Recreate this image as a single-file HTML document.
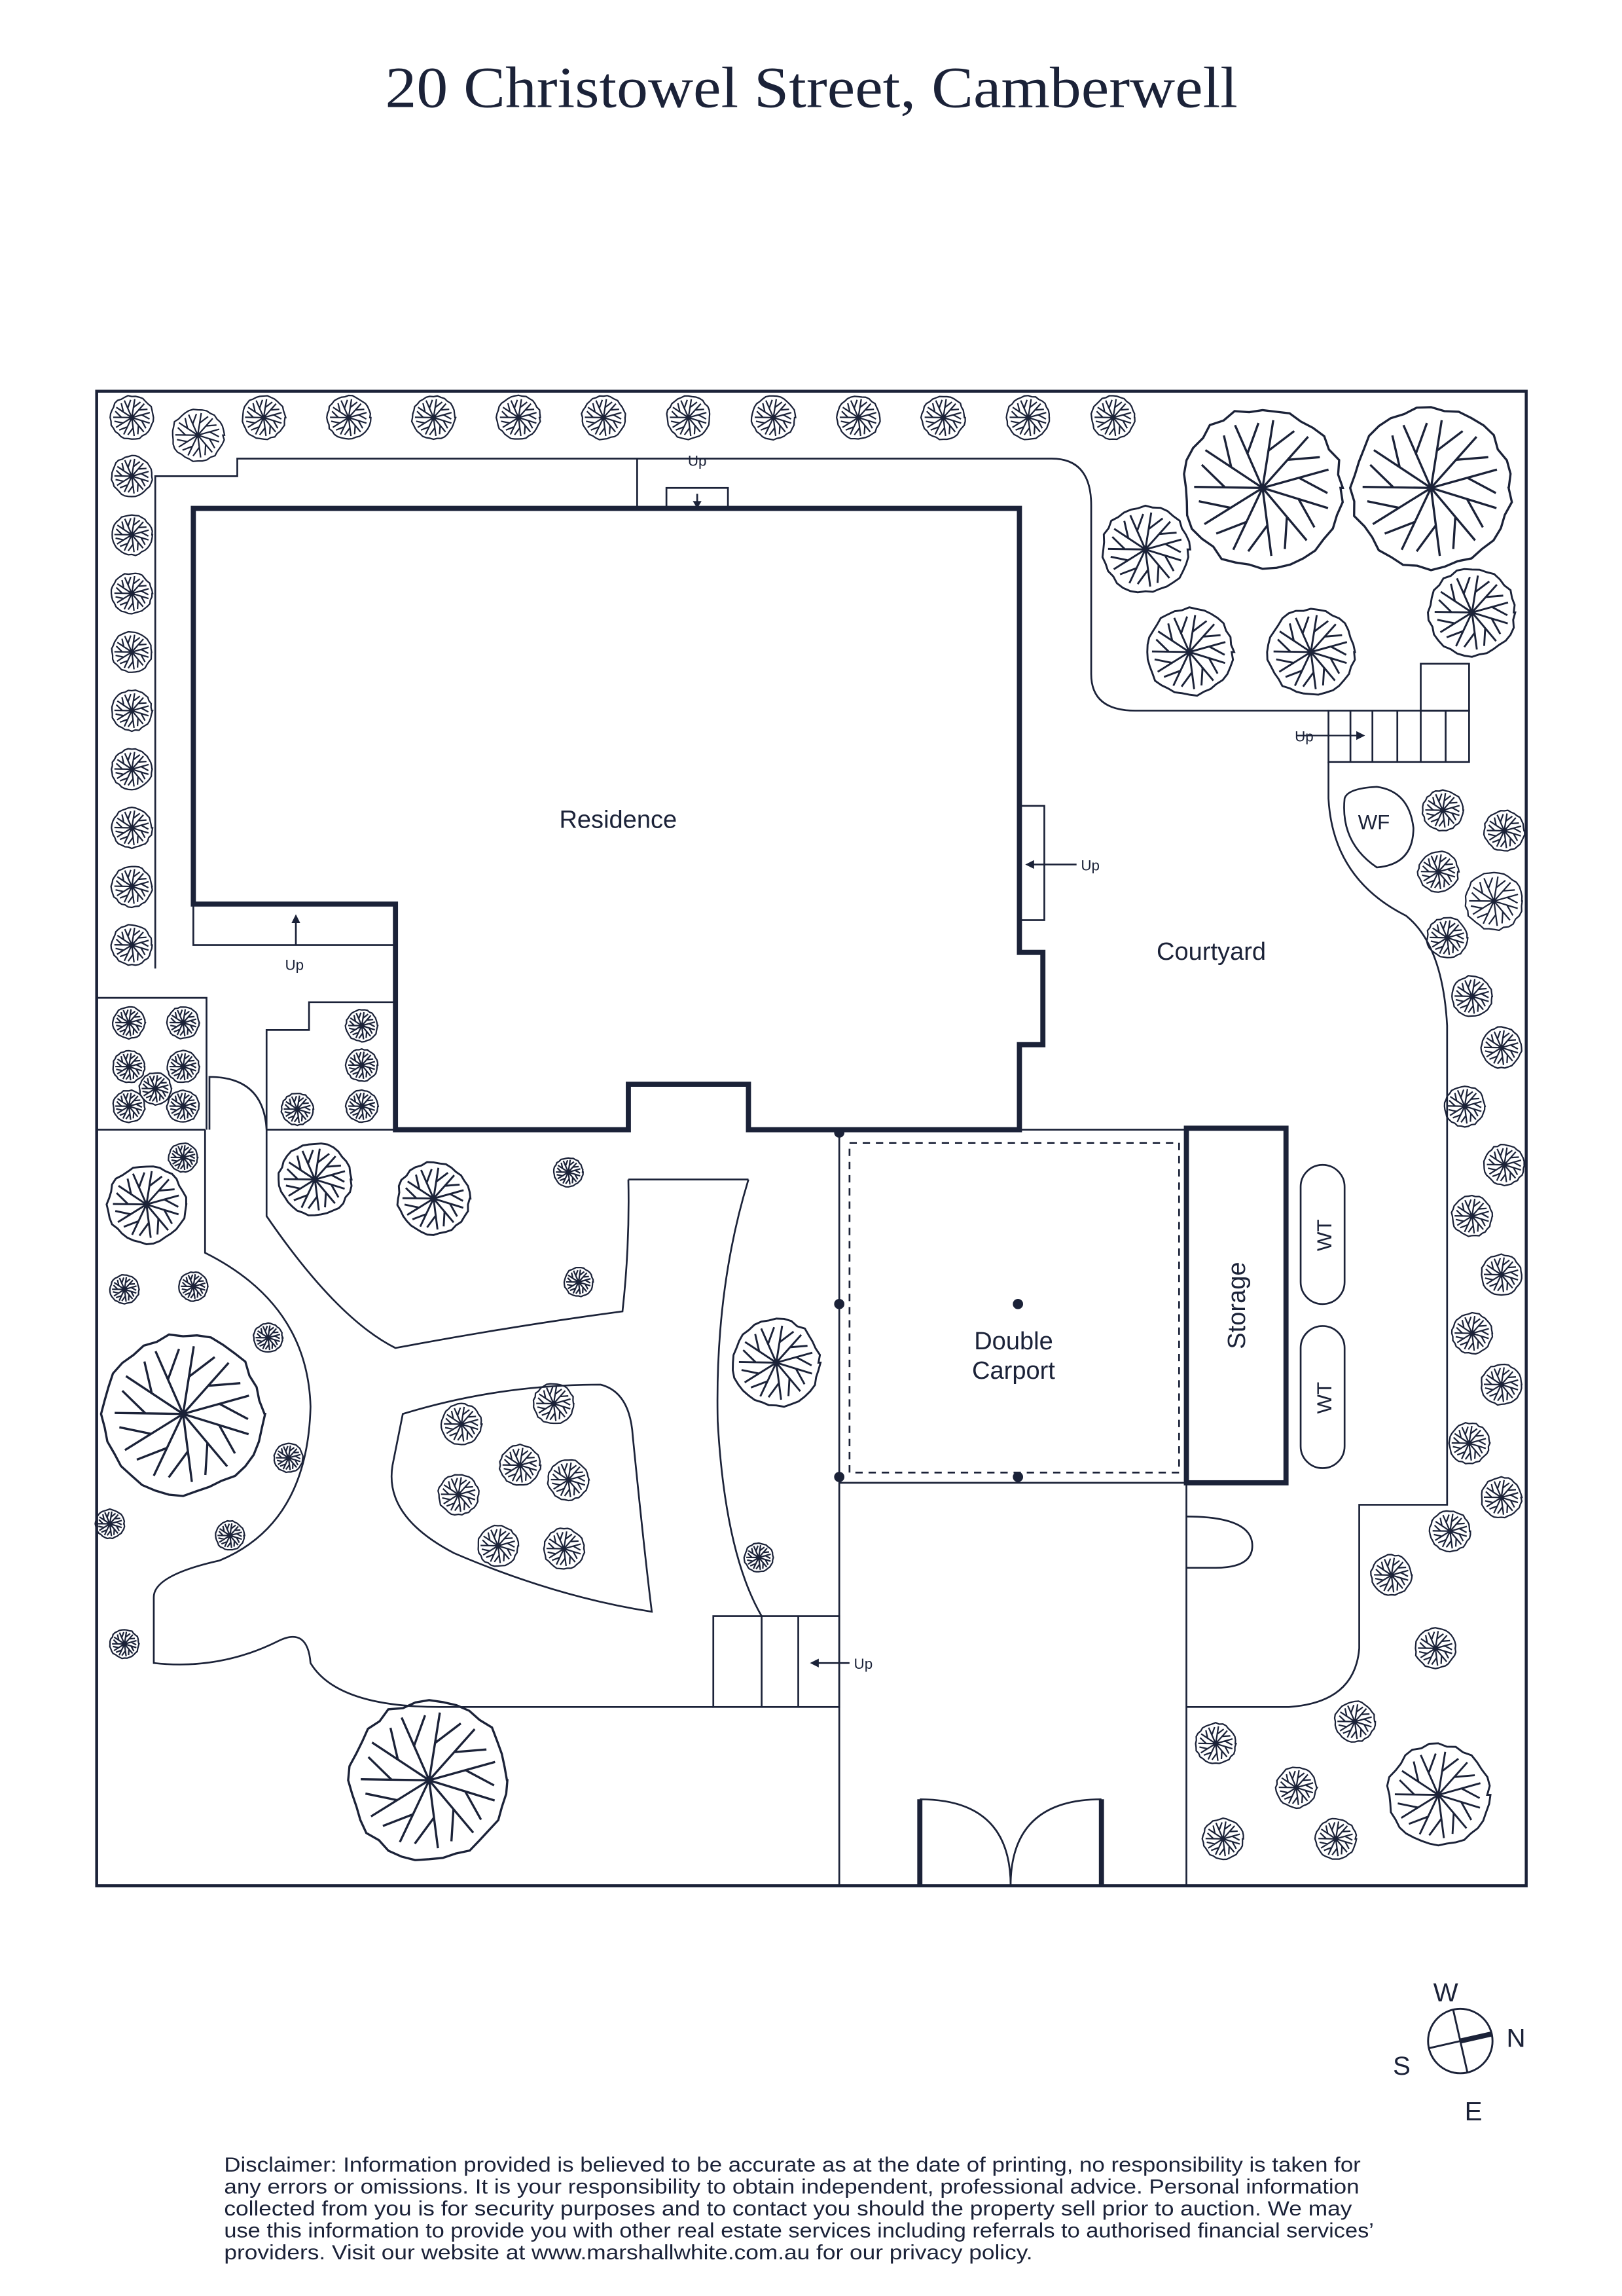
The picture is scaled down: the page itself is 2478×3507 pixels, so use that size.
<!DOCTYPE html>
<html><head><meta charset="utf-8"><style>
html,body{margin:0;padding:0;background:#fff;}
svg{display:block;}
text{fill:#1b2238;font-family:"Liberation Sans",sans-serif;}
</style></head><body>
<svg id="s" width="2478" height="3507" viewBox="0 0 1107.4 1567" preserveAspectRatio="none" xmlns="http://www.w3.org/2000/svg">
<rect width="1108" height="1567" fill="#fff"/>
<text x="554" y="73" text-anchor="middle" font-size="40" textLength="582" lengthAdjust="spacingAndGlyphs" style="font-family:'Liberation Serif',serif">20 Christowel Street, Camberwell</text>
<g fill="none" stroke="#1b2238" stroke-width="1.2">
<rect x="66" y="267" width="976" height="1020" stroke-width="2"/>
<path d="M106,661 V325 H162 V313 H718 Q745,313 745,345 V460 Q745,485 775,485 H907"/>
<path d="M435,313 V347"/>
<rect x="455" y="333" width="42" height="14"/>
<path d="M476,337 V345"/>
<rect x="907" y="485" width="96" height="35"/>
<path d="M922,485V520M937,485V520M954,485V520M970,485V520M987,485V520"/>
<rect x="970" y="453" width="33" height="32"/>
<path d="M907,520 V545 Q910,600 960,625 Q985,645 988,700 V1027 H928 V1125 Q925,1162 880,1165 H810"/>
<path d="M918,545 Q915,575 940,592 Q965,590 965,565 Q962,540 940,537 Q920,538 918,545Z"/>
<rect x="696" y="550" width="17" height="78"/>
<path d="M735,590 H702"/>
<rect x="132" y="617" width="138" height="28"/>
<path d="M202,645 V627"/>
<path d="M66,681 H141 V771"/>
<path d="M66,771 H140 M182,771 H270"/>
<path d="M182,771 V703 H211 V684 H270"/>
<path d="M143,771 V735 Q180,735 182,771" />
<path d="M140,771 V855 Q210,890 212,960 Q210,1040 150,1065 Q105,1075 105,1090 V1135 Q150,1140 190,1120 Q210,1110 212,1135 Q230,1165 300,1165 H487"/>
<path d="M182,771 V830 Q230,900 270,920 Q350,905 425,895 Q430,850 429,805"/>
<path d="M429,805 H511"/>
<path d="M511,805 Q488,880 490,970 Q495,1060 520,1103"/>
<path d="M275,965 Q340,945 410,945 Q430,950 432,980 Q440,1060 445,1100 Q380,1090 310,1060 Q262,1035 268,1000 Z"/>
<rect x="487" y="1103" width="86" height="62"/>
<path d="M520,1103V1165M545,1103V1165"/>
<path d="M580,1135 H555"/>
<path d="M573,771 V1287 M573,771 H810 M573,1012 H810 M810,1012 V1287"/>
<rect x="580" y="780" width="225" height="225" stroke-dasharray="5,4"/>
<path d="M810,1035 Q855,1035 855,1055 Q855,1070 830,1070 H810"/>
<rect x="888" y="795" width="30" height="95" rx="15"/>
<rect x="888" y="905" width="30" height="97" rx="15"/>
<path d="M628,1228 Q690,1228 690,1287 M752,1228 Q690,1228 690,1287"/>
</g>
<g fill="none" stroke="#1b2238" stroke-width="3.5">
<path d="M132,347 H696 V650 H712 V713 H696 V771 H511 V740 H429 V771 H270 V617 H132 Z"/>
<rect x="810" y="770" width="68" height="242"/>
<path d="M628,1287 V1228 M752,1287 V1228"/>
</g>
<g fill="#1b2238">
<path d="M700,590 l6,-3 v6z"/><path d="M202,624 l-3,6 h6z"/><path d="M553,1135 l6,-3 v6z"/>
<path d="M476,347 l-3,-5 h6z"/><path d="M932,502 l-6,-3 v6z"/>
<circle cx="573" cy="773" r="3.5"/><circle cx="573" cy="890" r="3.5"/><circle cx="573" cy="1008" r="3.5"/>
<circle cx="695" cy="890" r="3.5"/><circle cx="695" cy="1008" r="3.5"/>
</g>
<path d="M885,502 H930" stroke="#1b2238" stroke-width="1"/>
<text x="422" y="565" text-anchor="middle" font-size="17">Residence</text>
<text x="827" y="655" text-anchor="middle" font-size="17">Courtyard</text>
<text x="692" y="921" text-anchor="middle" font-size="17">Double</text>
<text x="692" y="941" text-anchor="middle" font-size="17">Carport</text>
<text x="938" y="566" text-anchor="middle" font-size="14">WF</text>
<text transform="translate(850,891) rotate(-90)" text-anchor="middle" font-size="17">Storage</text>
<text transform="translate(909,843) rotate(-90)" text-anchor="middle" font-size="14">WT</text>
<text transform="translate(909,954) rotate(-90)" text-anchor="middle" font-size="14">WT</text>
<text x="476" y="318" text-anchor="middle" font-size="10">Up</text>
<text x="738" y="594" font-size="10">Up</text>
<text x="201" y="662" text-anchor="middle" font-size="10">Up</text>
<text x="884" y="506" font-size="10">Up</text>
<text x="583" y="1139" font-size="10">Up</text>
<g fill="none" stroke="#1b2238" stroke-width="1.3">
<circle cx="997" cy="1393" r="22"/>
<path d="M992,1371 L1002,1415 M975,1398 L1019,1388"/>
<path d="M997,1393 L1019,1388" stroke-width="3.5"/>
</g>
<text x="987" y="1366" text-anchor="middle" font-size="18">W</text>
<text x="1035" y="1397" text-anchor="middle" font-size="18">N</text>
<text x="957" y="1416" text-anchor="middle" font-size="18">S</text>
<text x="1006" y="1447" text-anchor="middle" font-size="18">E</text>
<g font-size="14">
<text x="153" y="1482" textLength="776" lengthAdjust="spacingAndGlyphs">Disclaimer: Information provided is believed to be accurate as at the date of printing, no responsibility is taken for</text>
<text x="153" y="1497" textLength="775" lengthAdjust="spacingAndGlyphs">any errors or omissions. It is your responsibility to obtain independent, professional advice. Personal information</text>
<text x="153" y="1512" textLength="770" lengthAdjust="spacingAndGlyphs">collected from you is for security purposes and to contact you should the property sell prior to auction. We may</text>
<text x="153" y="1527" textLength="785" lengthAdjust="spacingAndGlyphs">use this information to provide you with other real estate services including referrals to authorised financial services’</text>
<text x="153" y="1542" textLength="552" lengthAdjust="spacingAndGlyphs">providers. Visit our website at www.marshallwhite.com.au for our privacy policy.</text>
</g>
<g id="trees" fill="none" stroke="#1b2238" stroke-width="1.3"></g>
</svg>
<script>
(function(){
var T=[];
[90,180,238,296,354,412,470,528,586,644,702,760].forEach(function(x){T.push([x,285,15]);});
T.push([135,297,18]);
[325,365,405,445,485,525,565,605,645].forEach(function(y){T.push([90,y,14]);});
T=T.concat([[862,333,55],[977,333,55],[782,375,30],[1005,418,30],[812,445,30],[895,445,30],
[985,553,14],[1027,567,14],[982,595,14],[1020,615,20],[988,640,14],[1005,680,14],[1025,715,14],[1000,755,14],[1027,795,14],[1005,830,14],[1025,870,14],[1005,910,14],[1025,945,14],[1003,985,14],[1025,1022,14],[990,1045,14],[950,1075,14],[980,1125,14],[925,1175,14],[830,1190,14],[885,1220,14],[835,1255,14],[912,1255,14],[982,1225,35],
[88,698,11],[125,698,11],[88,728,11],[125,728,11],[106,743,11],[88,755,11],[125,755,11],[247,700,11],[247,727,11],[247,755,11],[203,757,11],
[100,822,27],[215,805,25],[296,818,25],[388,800,10],[125,790,10],[85,880,10],[132,878,10],[183,913,10],[125,965,55],[197,995,10],[75,1040,10],[157,1048,10],[85,1122,10],[293,1215,55],[395,875,10],[530,930,30],[518,1063,10],
[315,972,14],[378,958,14],[355,1000,14],[313,1020,14],[388,1010,14],[340,1055,14],[385,1057,14]]);
var g=document.getElementById('trees'),ns='http://www.w3.org/2000/svg',seed=7;
function rnd(){seed=(seed*9301+49297)%233280;return seed/233280;}
T.forEach(function(t){
 var cx=t[0],cy=t[1],r=t[2],d='',n=36;
 for(var i=0;i<=n;i++){var a=i/n*Math.PI*2,rr=r*(0.95+0.07*rnd());d+=(i?'L':'M')+(cx+rr*Math.cos(a)).toFixed(1)+','+(cy+rr*Math.sin(a)).toFixed(1);}
 var b='';
 for(var k=0;k<11;k++){var a=k/11*Math.PI*2+0.3,L=r*0.85;
  b+='M'+cx+','+cy+'L'+(cx+L*Math.cos(a)).toFixed(1)+','+(cy+L*Math.sin(a)).toFixed(1);
  var m=0.55*L,a2=a+0.35;b+='M'+(cx+m*Math.cos(a)).toFixed(1)+','+(cy+m*Math.sin(a)).toFixed(1)+'L'+(cx+L*0.95*Math.cos(a2)).toFixed(1)+','+(cy+L*0.95*Math.sin(a2)).toFixed(1);}
 var p=document.createElementNS(ns,'path');p.setAttribute('d',d+'Z'+b);
 p.setAttribute('stroke-width',r>40?1.5:(r>20?1.3:1));g.appendChild(p);
});
})();
</script>
</body></html>
